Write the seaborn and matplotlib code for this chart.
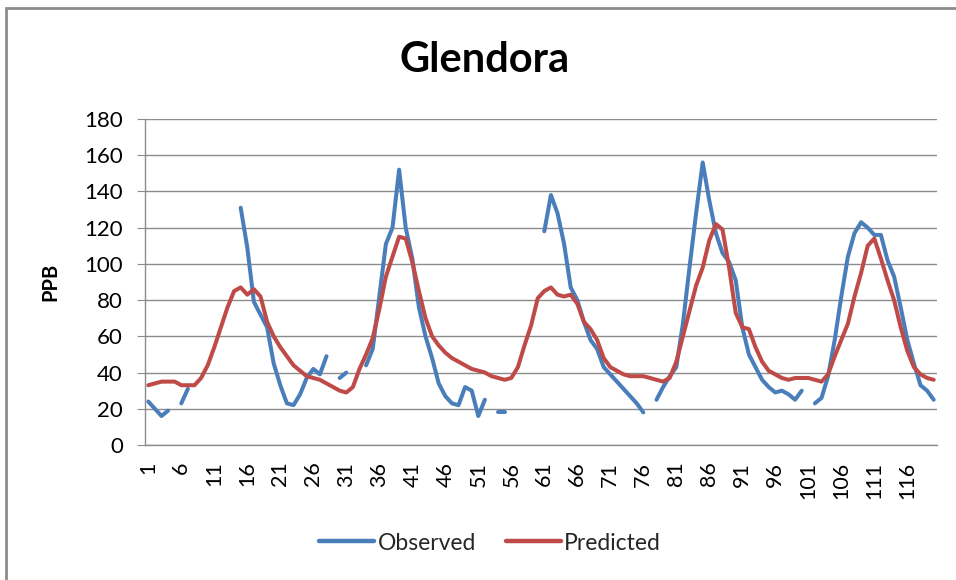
import numpy as np
import pandas as pd
import matplotlib
matplotlib.use("Agg")
import matplotlib.pyplot as plt
from matplotlib.patches import Rectangle
import seaborn as sns

nan = np.nan
months = list(range(1, 121))
observed = [
    24, 20, 16, 19, nan, 23, 31, nan, nan, nan,
    nan, nan, nan, nan, 131, 109, 79, 72, 65, 45,
    33, 23, 22, 28, 37, 42, 39, 49, nan, 37,
    40, nan, nan, 44, 53, 82, 111, 120, 152, 120,
    103, 76, 60, 48, 34, 27, 23, 22, 32, 30,
    16, 25, nan, 18, 18, nan, nan, nan, nan, nan,
    118, 138, 128, 111, 87, 80, 68, 58, 53, 43,
    39, 35, 31, 27, 23, 18, nan, 25, 32, 38,
    43, 67, 98, 128, 156, 135, 117, 106, 101, 91,
    65, 50, 43, 36, 32, 29, 30, 28, 25, 30,
    nan, 23, 26, 38, 58, 82, 104, 117, 123, 120,
    116, 116, 102, 93, 76, 58, 45, 33, 30, 25,
]
predicted = [
    33, 34, 35, 35, 35, 33, 33, 33, 37, 44,
    54, 65, 76, 85, 87, 83, 86, 82, 68, 60,
    54, 49, 44, 41, 38, 37, 36, 34, 32, 30,
    29, 32, 42, 50, 59, 75, 93, 104, 115, 114,
    101, 85, 70, 60, 55, 51, 48, 46, 44, 42,
    41, 40, 38, 37, 36, 37, 43, 55, 66, 81,
    85, 87, 83, 82, 83, 78, 68, 64, 58, 48,
    43, 41, 39, 38, 38, 38, 37, 36, 35, 37,
    46, 60, 74, 88, 98, 113, 122, 119, 98, 73,
    65, 64, 54, 46, 41, 39, 37, 36, 37, 37,
    37, 36, 35, 39, 49, 58, 67, 82, 95, 110,
    114, 103, 91, 80, 65, 52, 43, 39, 37, 36,
]
series_names = ["Observed", "Predicted"]
colors = {"Observed": "#4A7EBB", "Predicted": "#BE4B48"}
y_ticks = list(range(0, 181, 20))
x_tick_labels = list(range(1, 120, 5))


def to_frame(name, values):
    vals = pd.Series(values, dtype=float)
    seg = vals.isna().cumsum()  # new segment after each gap
    df = pd.DataFrame({"month": months, "ppb": vals, "series": name, "seg": seg})
    df = df.dropna()
    df["unit"] = name + "_" + df["seg"].astype(str)
    return df


data = pd.concat([to_frame("Observed", observed), to_frame("Predicted", predicted)])

sns.set_style("white")
plt.rcParams["font.family"] = ["Lato", "DejaVu Sans"]
plt.rcParams["text.color"] = "black"
plt.rcParams["xtick.labelcolor"] = "black"
plt.rcParams["ytick.labelcolor"] = "black"
plt.rcParams["axes.labelcolor"] = "black"

fig = plt.figure(figsize=(9.56, 5.8), dpi=100)
ax = fig.add_axes([145 / 956, 1 - 445 / 580, (937 - 145) / 956, (445 - 119) / 580])

sns.lineplot(data=data, x="month", y="ppb", hue="series", units="unit",
             estimator=None, palette=colors, hue_order=series_names,
             linewidth=2.9, ax=ax)

grid_c = "#8C8C8C"
ax.set_ylim(0, 180)
ax.set_xlim(0.5, 120.5)
ax.set_yticks(y_ticks)
ax.yaxis.grid(True, color=grid_c, linewidth=1.0)
ax.set_axisbelow(True)
ax.set_xticks(x_tick_labels)
ax.set_xticklabels([str(v) for v in x_tick_labels], rotation=90)
ax.set_xticks(np.arange(0.5, 121, 1), minor=True)
ax.tick_params(axis="x", which="major", length=0, pad=12, labelsize=15.5)
ax.tick_params(axis="x", which="minor", length=5, color=grid_c, direction="out")
ax.tick_params(axis="y", which="major", length=6, color=grid_c, direction="out",
               pad=10, labelsize=16, left=True)
for s in ["top", "right"]:
    ax.spines[s].set_visible(False)
for s in ["left", "bottom"]:
    ax.spines[s].set_color(grid_c)
    ax.spines[s].set_linewidth(1.0)

ax.set_xlabel("")
ax.set_ylabel("PPB", fontsize=14.5, fontweight="bold")
ax.yaxis.set_label_coords(-85 / 792, 0.5)

fig.text(485 / 956, 1 - 60 / 580, "Glendora", ha="center", va="center",
         fontsize=30, fontweight="bold", color="black")

handles, labels = ax.get_legend_handles_labels()
ax.get_legend().remove()
leg = fig.legend(handles, labels, loc="center", bbox_to_anchor=(490 / 956, 1 - 543 / 580),
                 ncol=2, frameon=False, fontsize=16.5, handlelength=2.4,
                 handletextpad=0.15, columnspacing=1.3)
for line in leg.get_lines():
    line.set_linewidth(3.2)
for t in leg.get_texts():
    t.set_color("#262626")

# chart-area border (left and top edges visible)
fig.patches.append(Rectangle((6 / 956, -0.05), 1.1, 1 - 8 / 580 + 0.05, transform=fig.transFigure,
                             fill=False, edgecolor="#8C8C8C", linewidth=2.0))

fig.savefig("out.png", dpi=100)
